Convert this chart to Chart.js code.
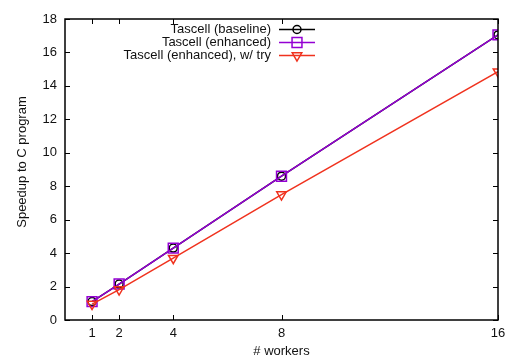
<!DOCTYPE html>
<html>
<head>
<meta charset="utf-8">
<script src="https://cdn.jsdelivr.net/npm/chart.js@4/dist/chart.umd.min.js"></script>
<style>
  html, body { margin: 0; padding: 0; background: #fff; }
  canvas { display: block; }
</style>
</head>
<body>
<canvas id="c" width="513" height="356"></canvas>
<script>
// data
const workers   = [1, 2, 4, 8, 16];
const baseline  = [1.10, 2.15, 4.30, 8.60, 17.05];
const enhanced  = [1.10, 2.15, 4.30, 8.60, 17.05];
const withTry   = [0.95, 1.82, 3.70, 7.50, 14.85];
const xTicks    = [1, 2, 4, 8, 16];
const labels    = ["Tascell (baseline)", "Tascell (enhanced)", "Tascell (enhanced), w/ try"];

const FONT = "'Liberation Sans', Arial, sans-serif";
const TXT = '#111';
const pts = (ys) => workers.map((w, i) => ({x: w, y: ys[i]}));

// gnuplot-ish frame: box around plot + inward ticks on all four sides, y title
const framePlugin = {
  id: 'frame',
  afterDatasetsDraw(chart) {
    const {ctx, chartArea: a, scales: {x, y}} = chart;
    ctx.save();
    ctx.strokeStyle = '#000';
    ctx.lineWidth = 1;
    ctx.beginPath();
    x.ticks.forEach(t => {
      const px = Math.round(x.getPixelForValue(t.value)) + 0.5;
      ctx.moveTo(px, a.bottom); ctx.lineTo(px, a.bottom - 5);
      ctx.moveTo(px, a.top);    ctx.lineTo(px, a.top + 5);
    });
    y.ticks.forEach(t => {
      const py = Math.round(y.getPixelForValue(t.value)) + 0.5;
      ctx.moveTo(a.left, py);  ctx.lineTo(a.left + 5, py);
      ctx.moveTo(a.right, py); ctx.lineTo(a.right - 5, py);
    });
    ctx.stroke();
    ctx.lineWidth = 1.5;
    ctx.strokeRect(a.left, a.top, a.right - a.left, a.bottom - a.top);

    // rotated y axis title
    ctx.translate(22, 162);
    ctx.rotate(-Math.PI / 2);
    ctx.font = '13px ' + FONT;
    ctx.fillStyle = TXT;
    ctx.textAlign = 'center';
    ctx.textBaseline = 'middle';
    ctx.fillText('Speedup to C program', 0, 0);
    ctx.restore();
  }
};

// legend: right-aligned text, sample line + marker on the right (gnuplot style)
const legendPlugin = {
  id: 'gpLegend',
  afterDraw(chart) {
    const {ctx, chartArea: a} = chart;
    ctx.save();
    chart.data.datasets.forEach((ds, i) => {
      const yy = a.top + 10.5 + i * 13;
      ctx.font = '13px ' + FONT;
      ctx.textAlign = 'right';
      ctx.textBaseline = 'middle';
      ctx.fillStyle = TXT;
      ctx.fillText(ds.label, a.left + 206, yy);
      const x0 = a.left + 214, x1 = a.left + 250, xm = (x0 + x1) / 2;
      ctx.strokeStyle = ds.borderColor;
      ctx.lineWidth = 1.5;
      ctx.beginPath(); ctx.moveTo(x0, yy); ctx.lineTo(x1, yy); ctx.stroke();
      ctx.fillStyle = 'rgba(0,0,0,0)';
      Chart.helpers.drawPoint(ctx, {
        pointStyle: ds.pointStyle, radius: ds.pointRadius,
        rotation: ds.pointRotation || 0, borderWidth: 1.5
      }, xm, yy);
    });
    ctx.restore();
  }
};

new Chart(document.getElementById('c'), {
  type: 'line',
  data: {
    datasets: [
      { label: labels[0], data: pts(baseline), borderColor: '#000', backgroundColor: 'transparent',
        pointStyle: 'circle', pointRadius: 4, pointBorderWidth: 1.5, borderWidth: 1.5, order: 3 },
      { label: labels[1], data: pts(enhanced), borderColor: '#9400d3', backgroundColor: 'transparent',
        pointStyle: 'rect', pointRadius: 7, pointBorderWidth: 1.5, borderWidth: 1.5, order: 2 },
      { label: labels[2], data: pts(withTry), borderColor: '#f0321e', backgroundColor: 'transparent',
        pointStyle: 'triangle', pointRotation: 180, pointRadius: 5.5, pointBorderWidth: 1.5, borderWidth: 1.5, order: 1 }
    ]
  },
  options: {
    responsive: false,
    animation: false,
    layout: { padding: { top: 19, right: 15, left: 0, bottom: 0 } },
    plugins: { legend: { display: false }, tooltip: { enabled: false } },
    scales: {
      x: {
        type: 'linear', min: 0, max: 16,
        afterBuildTicks: s => { s.ticks = xTicks.map(v => ({value: v})); },
        afterFit: s => { s.height = 36; },
        grid: { display: false, drawTicks: false }, border: { display: false },
        ticks: { color: TXT, font: { family: FONT, size: 13 }, padding: 6, maxRotation: 0 },
        title: { display: true, text: '# workers', color: TXT, font: { family: FONT, size: 13 }, padding: { top: 0, bottom: -3 } }
      },
      y: {
        min: 0, max: 18,
        afterFit: s => { s.width = 65; },
        grid: { display: false, drawTicks: false }, border: { display: false },
        ticks: { stepSize: 2, color: TXT, font: { family: FONT, size: 13 }, padding: 8 }
      }
    }
  },
  plugins: [framePlugin, legendPlugin]
});
</script>
</body>
</html>
